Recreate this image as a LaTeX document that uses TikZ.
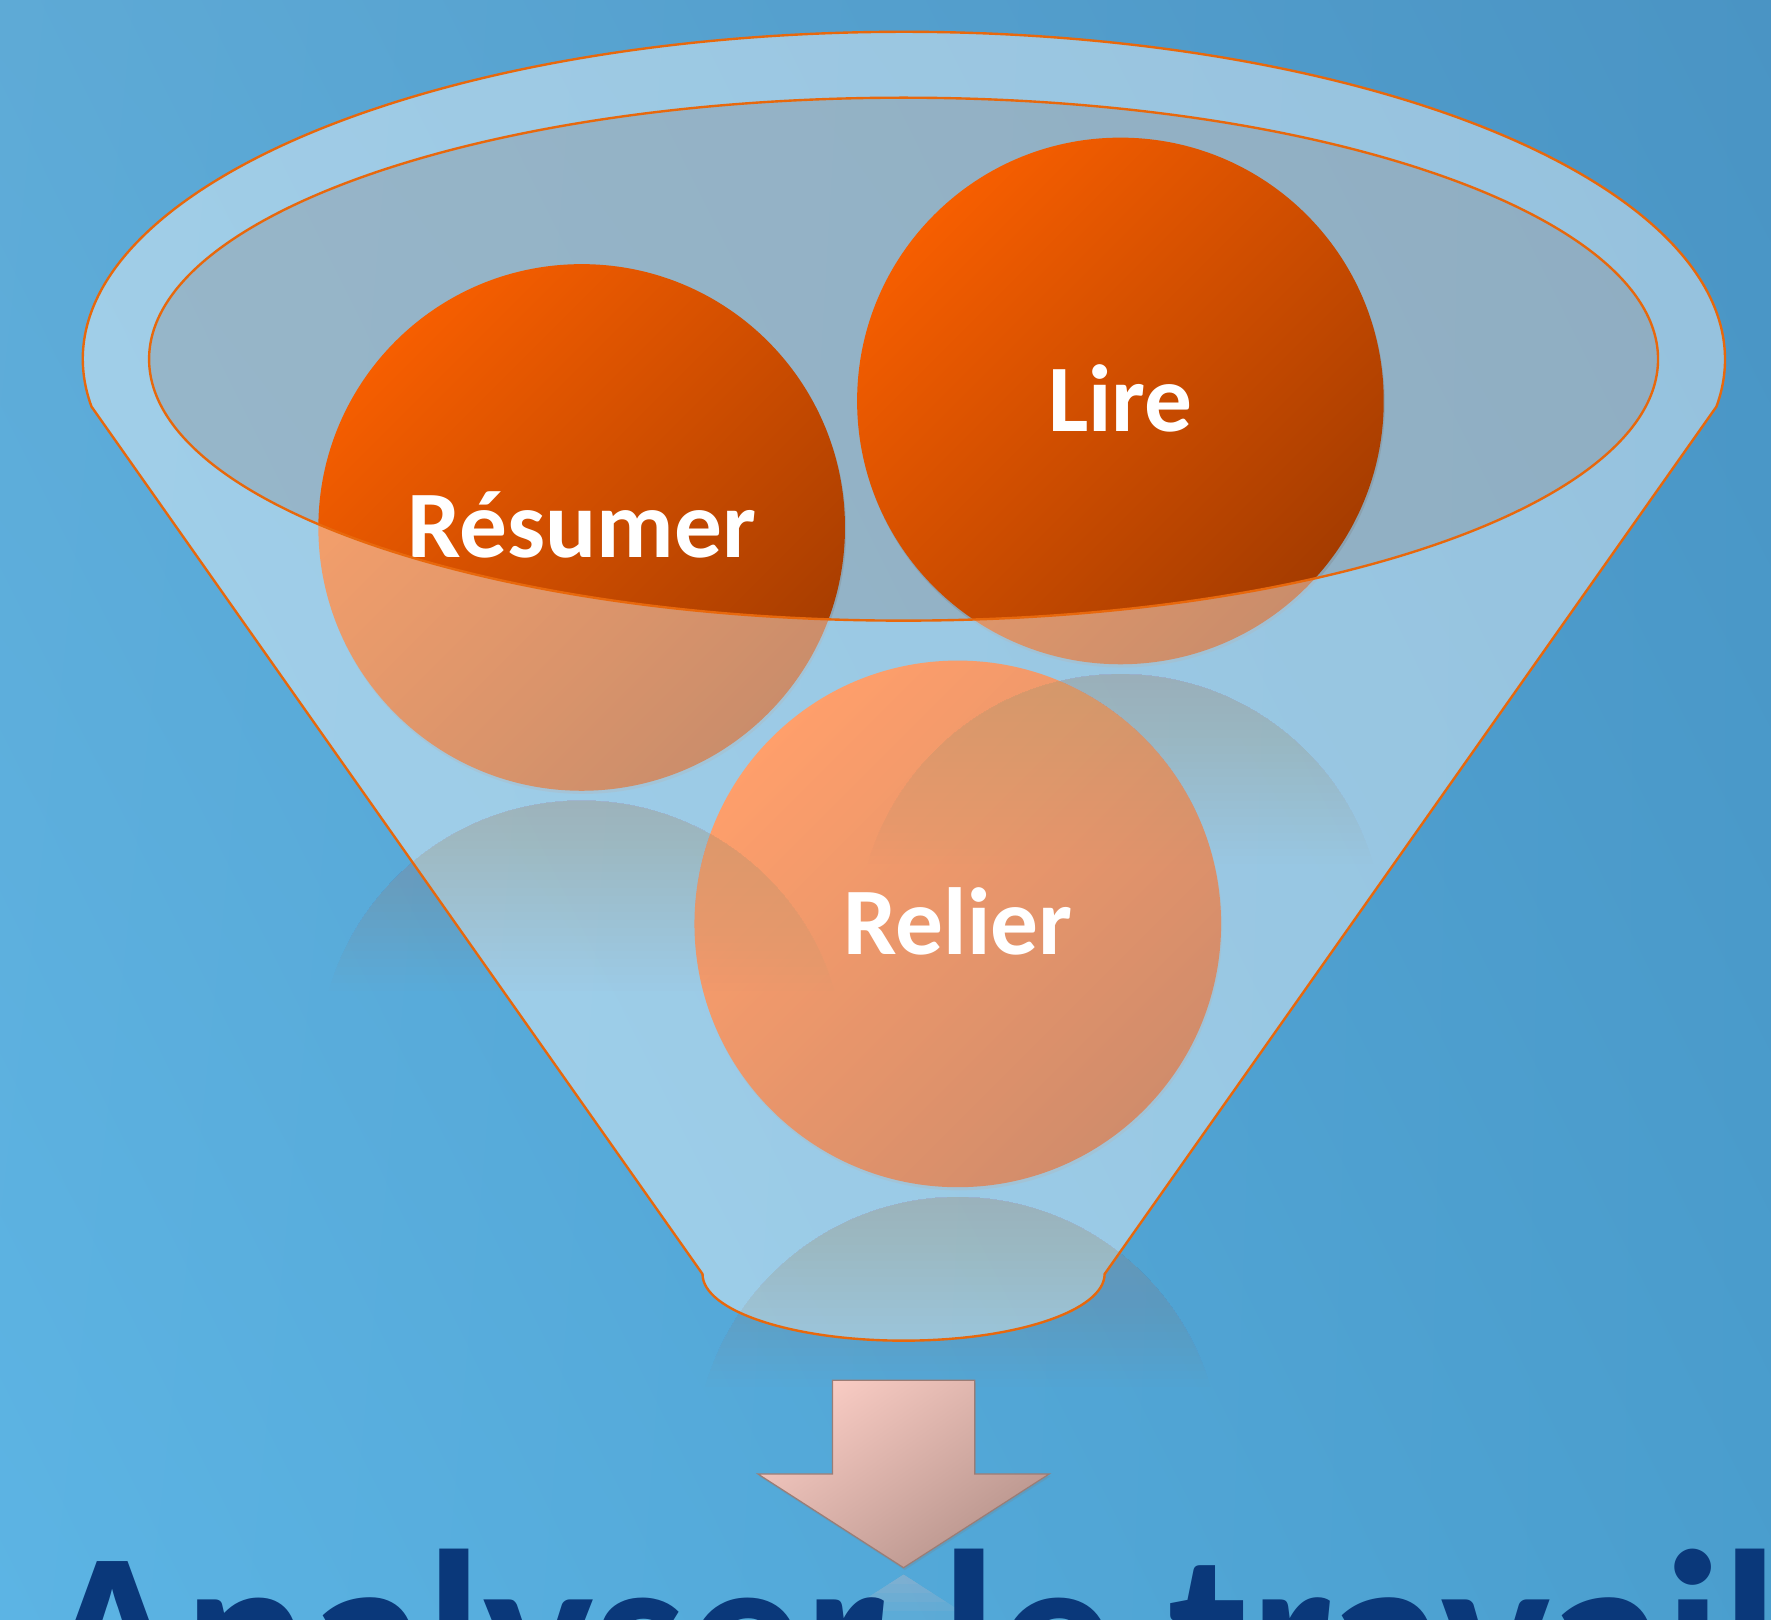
\documentclass[tikz,border=0pt]{standalone}
\usepackage{fontspec}
\setmainfont{Carlito}
\usepackage{xcolor}
\usepackage{tikz}
\usetikzlibrary{positioning, shadows, shadings, calc}

\definecolor{bgUL}{HTML}{5EAAD6}
\definecolor{bgUR}{HTML}{4A94C4}
\definecolor{bgLL}{HTML}{5CB4E4}
\definecolor{bgLR}{HTML}{4A9ECE}
\definecolor{rimorange}{HTML}{E8680C}
\definecolor{innergray}{HTML}{BEBEC0}
\definecolor{ballL}{HTML}{F65E00}
\definecolor{ballD}{HTML}{A53C00}
\definecolor{relierL}{HTML}{FF5A00}
\definecolor{relierD}{HTML}{B03A00}
\definecolor{reflcol}{HTML}{B4988F}
\definecolor{arrowL}{HTML}{F8CBC3}
\definecolor{arrowD}{HTML}{B6938B}
\definecolor{navy}{HTML}{0A387A}

\begin{document}
\begin{tikzpicture}[
  x=0.01cm, y=-0.01cm,
  ball/.style={circle, minimum size=4.66cm, inner sep=0pt,
    top color=ballL, bottom color=ballD, shading angle=45,
    drop shadow={opacity=0.3, shadow xshift=0.3pt, shadow yshift=-0.8pt},
    text=white, font=\fontsize{24}{28}\selectfont\bfseries,
    text height=15.2pt, text depth=0pt},
  rim/.style={draw=rimorange, line width=0.6pt},
  arrowbox/.style={top color=arrowL, bottom color=arrowD, shading angle=35,
    draw=arrowD!85!black, line width=0.3pt},
  title/.style={anchor=base, text=navy, font=\fontsize{59}{60}\selectfont\bfseries}
]
\useasboundingbox (0,0) rectangle (1568,1434);
\clip (0,0) rectangle (1568,1434);
\shade[upper left=bgUL, upper right=bgUR, lower left=bgLL, lower right=bgLR] (0,0) rectangle (1568,1434);

\fill[innergray, fill opacity=0.6] (800,318) ellipse [x radius=668, y radius=231.5];

\node[ball] (resumer) at (515,467) {Résumer};
\node[ball] (lire) at (992,355) {Lire};
\node[ball, top color=relierL, bottom color=relierD, shading angle=45] (relier) at (848,818) {Relier};

\fill[white, fill opacity=0.42, even odd rule]
  (622,1128) -- (81,360) arc [start angle=171.7, end angle=368.3, x radius=727, y radius=290]
  -- (978,1128) arc [start angle=0, end angle=180, x radius=178, y radius=59] -- cycle
  (800,318) ellipse [x radius=668, y radius=231.5];

\foreach \b in {resumer, lire, relier}
  \foreach \k in {1,...,24}{
    \begin{scope}
      \clip ($(\b.south)+(-240,8)$) rectangle ++(480,7*\k);
      \fill[reflcol, fill opacity=0.021] ($(\b.south)+(0,241)$) circle [radius=233];
    \end{scope}
  }

\draw[rim] (622,1128) -- (81,360) arc [start angle=171.7, end angle=368.3, x radius=727, y radius=290]
  -- (978,1128) arc [start angle=0, end angle=180, x radius=178, y radius=59] -- cycle;
\draw[rim] (800,318) ellipse [x radius=668, y radius=231.5];

\coordinate (tip) at (800,1388);
\shade[arrowbox, drop shadow={opacity=0.25, shadow xshift=0.3pt, shadow yshift=-0.6pt}]
  (737,1222) -- (863,1222) -- (863,1305) -- (929,1305) -- (tip) -- (671,1305) -- (737,1305) -- cycle;
\foreach \k in {1,...,5}{
  \begin{scope}
    \clip ($(tip)+(-80,6)$) rectangle ++(160,8*\k);
    \fill[arrowL, fill opacity=0.06] ($(tip)+(0,6)$) -- ++(129,83) -- ++(-258,0) -- cycle;
  \end{scope}
}

\node[title] (travail) at (806,1517) {Analyser le travail};
\end{tikzpicture}
\end{document}
